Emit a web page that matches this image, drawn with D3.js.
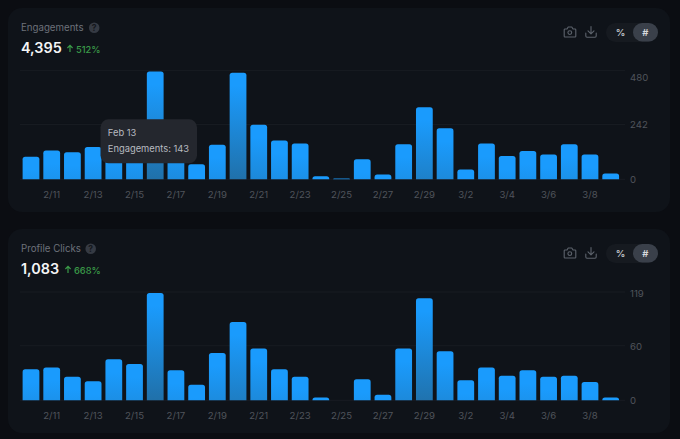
<!DOCTYPE html>
<html><head><meta charset="utf-8">
<script src="https://cdn.jsdelivr.net/npm/d3@7/dist/d3.min.js"></script>
<style>html,body{margin:0;padding:0;background:#0b0d12;overflow:hidden}svg{display:block}text{font-family:Inter,"Noto Sans",sans-serif}</style>
</head><body><svg id="c" width="680" height="439"></svg>
<script>
const categories = ["2/10","2/11","2/12","2/13","2/14","2/15","2/16","2/17","2/18","2/19","2/20","2/21","2/22","2/23","2/24","2/25","2/26","2/27","2/28","2/29","3/1","3/2","3/3","3/4","3/5","3/6","3/7","3/8","3/9"];
const tickLabels = ["2/11","2/13","2/15","2/17","2/19","2/21","2/23","2/25","2/27","2/29","3/2","3/4","3/6","3/8"];
const engagements = [100,127,119,143,150,160,476,207,66,153,470,241,171,158,13,4,88,21,155,318,225,43,158,103,125,110,155,110,26];
const profileClicks = [34,36,26,21,45,40,118,33,17,52,86,57,34,26,3,0,23,6,57,112,54,22,36,27,33,26,27,20,3];
const engagementTicks = [0,242,480];
const clickTicks = [0,60,119];

const svg = d3.select("#c");
const defs = svg.append("defs");
const x = d3.scaleBand().domain(categories).range([20.65,621.05]).paddingInner(0.19).paddingOuter(0.095);
const LABEL="#4f535b", GRID="#181c22";

function panel(o){
  const g = svg.append("g").attr("transform",`translate(0,${o.dy})`);
  g.append("rect").attr("x",8).attr("y",8).attr("width",662).attr("height",204).attr("rx",14).attr("fill","#0f1319");
  // header
  g.append("text").attr("x",21).attr("y",31.3).attr("font-size",9.7).attr("fill","#6d7179").text(o.title);
  g.append("circle").attr("cx",o.helpX).attr("cy",27.8).attr("r",5.3).attr("fill","#353a43");
  g.append("text").attr("x",o.helpX).attr("y",31).attr("text-anchor","middle").attr("font-size",8.5).attr("font-weight",700).attr("fill","#14171c").text("?");
  g.append("text").attr("x",21).attr("y",53).attr("font-size",14.4).attr("font-weight",600).attr("fill","#f4f5f6").text(o.value);
  g.append("path").attr("d",`M${o.arrowX} 52V45.5M${o.arrowX-2.6} 48l2.6-2.6 2.6 2.6`).attr("fill","none").attr("stroke","#3a9a48").attr("stroke-width",1.2);
  g.append("text").attr("x",o.arrowX+6).attr("y",52.5).attr("font-size",9.3).attr("font-weight",500).attr("fill","#3a9a48").text(o.pct);
  // icons
  const ic = g.append("g").attr("fill","none").attr("stroke","#5d636c").attr("stroke-width",1.1).attr("stroke-linejoin","round").attr("stroke-linecap","round");
  ic.append("path").attr("d","M565 29h2l1.2-2h3.6l1.2 2h2a.8.8 0 0 1 .8.8v6.4a.8.8 0 0 1-.8.8h-10a.8.8 0 0 1-.8-.8v-6.4a.8.8 0 0 1 .8-.8z");
  ic.append("circle").attr("cx",569.8).attr("cy",32.6).attr("r",1.9);
  ic.append("path").attr("d","M591 26.5v7M588 30.8l3 3 3-3M585.8 33v3a1.2 1.2 0 0 0 1.2 1.2h8a1.2 1.2 0 0 0 1.2-1.2v-3");
  g.append("rect").attr("x",606).attr("y",23).attr("width",52).attr("height",19).attr("rx",9.5).attr("fill","#161a20");
  g.append("rect").attr("x",633).attr("y",23).attr("width",25).attr("height",18.5).attr("rx",9.2).attr("fill","#3a404a");
  g.append("text").attr("x",620.6).attr("y",35.8).attr("text-anchor","middle").attr("font-size",9.5).attr("font-weight",600).attr("fill","#c4c7cc").text("%");
  g.append("text").attr("x",645.3).attr("y",35.8).attr("text-anchor","middle").attr("font-size",9.5).attr("font-weight",600).attr("fill","#d8dade").text("#");

  const y = d3.scaleLinear().domain([0,o.ticks[2]]).range([179.3,o.top]);
  // grid
  g.append("g").selectAll("line").data(o.ticks).join("line")
    .attr("x1",20).attr("x2",625).attr("y1",d=>y(d)).attr("y2",d=>y(d)).attr("stroke",GRID);
  // y axis
  const ya = g.append("g").attr("transform","translate(630,0)").call(d3.axisRight(y).tickValues(o.ticks).tickSize(0).tickPadding(0));
  ya.select(".domain").remove();
  ya.selectAll("text").attr("font-size",9.6).attr("fill",LABEL).attr("font-family",null)
    .attr("dy",d=>(d===o.ticks[2]?o.topDy:0)+3.5);
  // x axis
  const xa = g.append("g").attr("transform","translate(0,179.3)").call(d3.axisBottom(x).tickValues(tickLabels).tickSize(0).tickPadding(0));
  xa.select(".domain").remove();
  xa.selectAll("text").attr("font-size",9.6).attr("fill",LABEL).attr("font-family",null).attr("y",19).attr("dy",0);
  // bars
  o.data.forEach((v,i)=>{
    const t=y(v);
    const lg=defs.append("linearGradient").attr("id",`g${o.id}${i}`).attr("gradientUnits","userSpaceOnUse")
      .attr("x1",0).attr("x2",0).attr("y1",t).attr("y2",t+108);
    lg.append("stop").attr("offset",0).attr("stop-color","#1a9bfd");
    lg.append("stop").attr("offset",0.12).attr("stop-color","#1a9bfd");
    lg.append("stop").attr("offset",1).attr("stop-color","#2070a9");
  });
  g.append("g").selectAll("path").data(o.data).join("path")
    .attr("fill",(d,i)=>`url(#g${o.id}${i})`)
    .attr("d",(d,i)=>{
      const x0=x(categories[i]),w=x.bandwidth(),h=179.3-y(d),r=Math.min(2.6,h),t=y(d);
      if(h<=0) return null;
      return `M${x0} 179.3V${t+r}Q${x0} ${t} ${x0+r} ${t}H${x0+w-r}Q${x0+w} ${t} ${x0+w} ${t+r}V179.3Z`;
    });
  if(o.tip){
    const tp=g.append("g");
    tp.append("rect").attr("x",100.5).attr("y",119.3).attr("width",96.5).attr("height",44).attr("rx",8).attr("fill","#24272e");
    tp.append("text").attr("x",107.8).attr("y",135.6).attr("font-size",9.35).attr("fill","#b8bbc0").text("Feb 13");
    tp.append("text").attr("x",107.8).attr("y",152.4).attr("font-size",9.35).attr("fill","#b8bbc0").text("Engagements: 143");
  }
}
panel({id:"a",dy:0,title:"Engagements",helpX:94.2,value:"4,395",arrowX:70,pct:"512%",data:engagements,ticks:engagementTicks,top:70.6,topDy:6,tip:true});
panel({id:"b",dy:221,title:"Profile Clicks",helpX:90.7,value:"1,083",arrowX:68,pct:"668%",data:profileClicks,ticks:clickTicks,top:71,topDy:1,tip:false});
</script></body></html>
